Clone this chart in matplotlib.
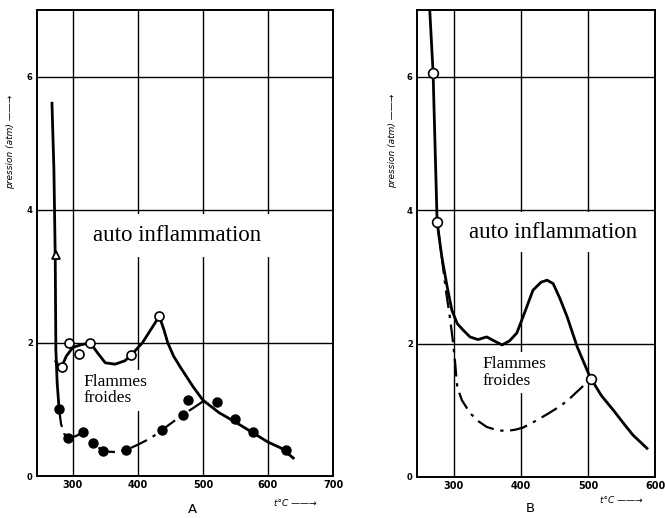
"""
Courbes pression / température : zones d'auto inflammation et de flammes froides
Deux panneaux (A et B)
"""

import matplotlib.pyplot as plt

# ============================================
# DONNÉES - Panneau A
# ============================================
# trait vertical à gauche (limite basse température)
a_vert_t = [268, 271, 273, 274, 276, 279]
a_vert_p = [5.6, 4.6, 3.3, 1.9, 1.4, 1.0]
a_tri_t = [274.5]
a_tri_p = [3.32]

# limite flammes froides / auto inflammation (trait plein)
a_sol_t = [274, 279, 283, 290, 300, 312, 327, 338, 350, 365, 380, 390, 407, 420, 433,
           440, 446, 455, 465, 485, 500, 525, 550, 575, 600, 620, 639]
a_sol_p = [1.72, 1.64, 1.64, 1.8, 1.93, 1.97, 2.0, 1.85, 1.70, 1.68, 1.73, 1.82, 2.0, 2.2, 2.4,
           2.2, 2.0, 1.8, 1.64, 1.34, 1.14, 0.95, 0.81, 0.66, 0.51, 0.42, 0.27]
a_open_t = [283, 294, 310, 327, 390, 433]
a_open_p = [1.64, 2.0, 1.83, 2.0, 1.82, 2.4]

# limite basse des flammes froides (trait mixte)
a_dd_t = [279, 282, 287, 293, 305, 316, 331, 347, 365, 382, 400, 420, 437,
          455, 469, 485, 500]
a_dd_p = [1.0, 0.78, 0.63, 0.57, 0.6, 0.66, 0.5, 0.37, 0.36, 0.39, 0.47, 0.57, 0.69,
          0.82, 0.92, 1.02, 1.12]
a_full_t = [279, 293, 316, 331, 347, 382, 437, 469, 477, 521, 549, 577, 627]
a_full_p = [1.0, 0.57, 0.66, 0.5, 0.37, 0.39, 0.69, 0.92, 1.14, 1.11, 0.86, 0.66, 0.39]

# ============================================
# DONNÉES - Panneau B
# ============================================
b_sol_t = [264, 269, 275, 282, 290, 297, 305, 314, 324, 336, 349, 360, 372, 383,
           394, 405, 418, 430, 439, 448, 458, 469, 484, 503, 520, 538, 555, 567, 588]
b_sol_p = [7.0, 6.06, 3.82, 3.3, 2.85, 2.5, 2.3, 2.2, 2.1, 2.06, 2.1, 2.04, 1.98, 2.04,
           2.16, 2.45, 2.8, 2.92, 2.95, 2.9, 2.68, 2.4, 1.95, 1.5, 1.22, 1.0, 0.78, 0.63, 0.43]
b_dd_t = [275, 282, 288, 294, 299, 302, 305, 312, 324, 336, 349, 365, 379, 392, 403,
          420, 439, 455, 469, 486, 503]
b_dd_p = [3.82, 3.3, 2.8, 2.4, 2.0, 1.7, 1.35, 1.15, 0.96, 0.84, 0.75, 0.7, 0.69, 0.71, 0.74,
          0.83, 0.94, 1.04, 1.14, 1.3, 1.46]
b_open_t = [269, 275, 505]
b_open_p = [6.06, 3.82, 1.47]

yticks = [0, 2, 4, 6]
xticks_a = [300, 400, 500, 600, 700]
xticks_b = [300, 400, 500, 600]

DASHDOT = (0, (8, 3, 1.5, 3))
serif = 'Liberation Serif'

fig = plt.figure(figsize=(6.65, 5.18), dpi=100)
axA = fig.add_axes([37/665, 1-476/518, 296/665, 466/518])
axB = fig.add_axes([417/665, 1-477/518, 238/665, 467/518])


def preparer(ax, xlim, xticks):
    ax.set_xlim(*xlim)
    ax.set_ylim(0, 7)
    ax.set_xticks(xticks)
    ax.set_yticks(yticks)
    ax.grid(True, color='black', lw=1.0)
    ax.set_axisbelow(True)
    for s in ax.spines.values():
        s.set_linewidth(1.4)
    ax.tick_params(length=0, pad=3)
    for lab in ax.get_xticklabels():
        lab.set_fontsize(7)
        lab.set_fontweight('bold')
    for lab in ax.get_yticklabels():
        lab.set_fontsize(6)
        lab.set_fontweight('bold')
    ax.set_ylabel('pression (atm) ——→', fontsize=6.5, style='italic')


# ============================================
# PANNEAU A
# ============================================
preparer(axA, (245, 700), xticks_a)
axA.yaxis.set_label_coords(-0.073, 0.717)
axA.plot(a_vert_t, a_vert_p, color='black', lw=2, zorder=4)
axA.plot(a_tri_t, a_tri_p, '^', ms=6, mfc='white', mec='black', mew=1.3, zorder=5)
axA.plot(a_sol_t, a_sol_p, color='black', lw=2, zorder=4)
axA.plot(a_open_t, a_open_p, 'o', ms=6.5, mfc='white', mec='black', mew=1.2, zorder=5)
axA.plot(a_dd_t, a_dd_p, color='black', lw=1.6, linestyle=DASHDOT, zorder=4)
axA.plot(a_full_t, a_full_p, 'o', ms=6.5, color='black', zorder=5)

axA.text(460, 3.62, 'auto inflammation', fontsize=16.5, family=serif,
         ha='center', va='center', zorder=3,
         bbox=dict(facecolor='white', edgecolor='none', pad=8))
axA.text(316, 1.29, 'Flammes\nfroides', fontsize=12.5, family=serif,
         ha='left', va='center', linespacing=1.05, zorder=3,
         bbox=dict(facecolor='white', edgecolor='none', pad=3))
axA.text(0.80, -0.06, 't°C ——→', transform=axA.transAxes, fontsize=6.5,
         style='italic', ha='left', va='center')
axA.text(0.526, -0.072, 'A', transform=axA.transAxes, fontsize=9.5,
         ha='center', va='center')

# ============================================
# PANNEAU B
# ============================================
preparer(axB, (245, 600), xticks_b)
axB.yaxis.set_label_coords(-0.086, 0.72)
axB.plot(b_sol_t, b_sol_p, color='black', lw=2, zorder=4)
axB.plot(b_dd_t, b_dd_p, color='black', lw=1.6, linestyle=DASHDOT, zorder=4)
axB.plot(b_open_t, b_open_p, 'o', ms=7, mfc='white', mec='black', mew=1.2, zorder=5)

axB.text(448, 3.67, 'auto inflammation', fontsize=16.5, family=serif,
         ha='center', va='center', zorder=3,
         bbox=dict(facecolor='white', edgecolor='none', pad=7))
axB.text(343, 1.57, 'Flammes\nfroides', fontsize=12.5, family=serif,
         ha='left', va='center', linespacing=1.05, zorder=3,
         bbox=dict(facecolor='white', edgecolor='none', pad=3))
axB.text(0.77, -0.05, 't°C ——→', transform=axB.transAxes, fontsize=6.5,
         style='italic', ha='left', va='center')
axB.text(0.475, -0.068, 'B', transform=axB.transAxes, fontsize=9.5,
         ha='center', va='center')

plt.savefig('out.png', dpi=100)
plt.close()
